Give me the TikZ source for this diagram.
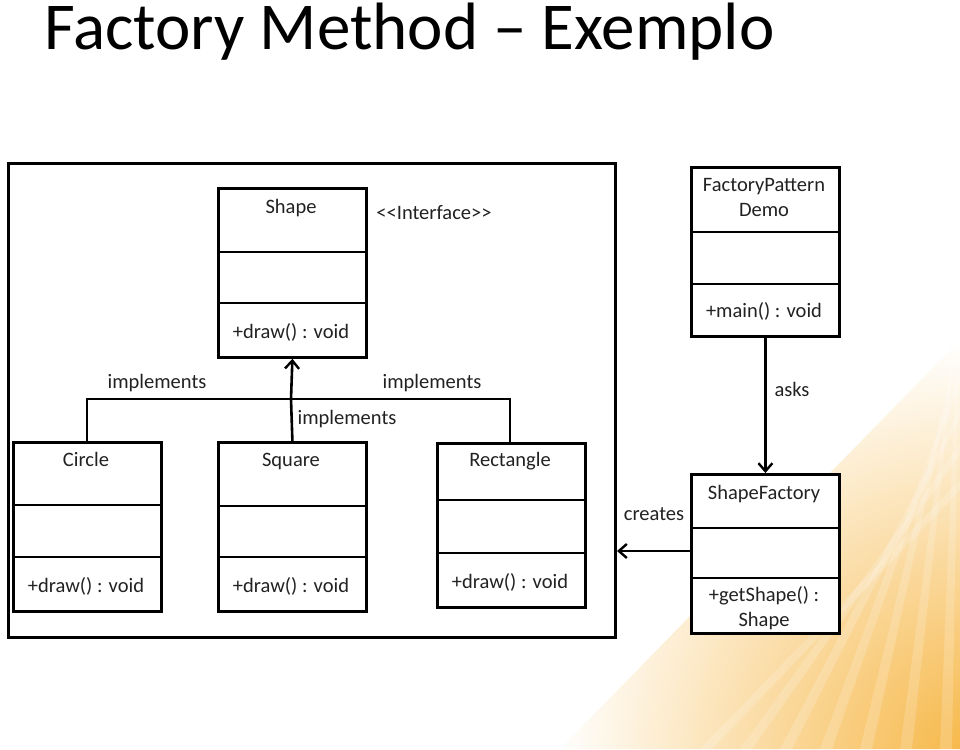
\documentclass[tikz,border=0pt]{standalone}
\usepackage{fontspec}
\setmainfont{Carlito}
\usetikzlibrary{arrows.meta}
\definecolor{txt}{HTML}{222222}
\definecolor{warm}{HTML}{F6B644}
\tikzset{
  cls/.style={draw=black, line width=2.8pt, inner sep=0pt, anchor=north west, fill=white},
  div/.style={line width=2.6pt},
  lbl/.style={font=\fontsize{20.5}{25}\selectfont, text=txt, anchor=base, inner sep=0pt},
  conn/.style={line width=2.6pt},
  arr/.style={conn, -{Straight Barb[length=8pt,width=14pt,line width=2.4pt]}},
}
\begin{document}
\begin{tikzpicture}[x=1pt,y=-1pt]
\useasboundingbox (0,0) rectangle (960,749);
\fill[white] (0,0) rectangle (960,749);
% warm background corner
\begin{scope}
  \clip (560,749) -- (960,340) -- (960,749) -- cycle;
  \shade[inner color=warm, outer color=white] (975,760) circle[radius=420];
  \foreach \d in {0,40,...,360} {
    \fill[white, opacity=0.18] (700+\d,749) -- (960,480-\d*0.9) -- (960,490-\d*0.9) -- (712+\d,749) -- cycle;
  }
\end{scope}

% title
\node[font=\fontsize{67}{72}\selectfont, anchor=base west, inner sep=0pt] (title) at (44,50) {Factory Method -- Exemplo};

% outer frame
\node[draw=black, line width=3pt, inner sep=0pt, anchor=north west, minimum width=607pt, minimum height=474pt] (frame) at (7,162) {};

% Shape interface
\node[cls, minimum width=148pt, minimum height=169pt] (shape) at (217,187) {};
\draw[div] (shape.west |- 0,252) -- (shape.east |- 0,252);
\draw[div] (shape.west |- 0,303) -- (shape.east |- 0,303);
\node[lbl] (shapeT) at (291,213) {Shape};
\node[lbl] (shapeM) at (291,338) {+draw() : void};
\node[lbl] (iface) at (434,219) {<{}<Interface>{}>};

% Circle
\node[cls, minimum width=148pt, minimum height=169pt] (circle) at (12,441) {};
\draw[div] (circle.west |- 0,505) -- (circle.east |- 0,505);
\draw[div] (circle.west |- 0,557) -- (circle.east |- 0,557);
\node[lbl] (circleT) at (86,466) {Circle};
\node[lbl] (circleM) at (86,592) {+draw() : void};

% Square
\node[cls, minimum width=148pt, minimum height=169pt] (square) at (217,441) {};
\draw[div] (square.west |- 0,506) -- (square.east |- 0,506);
\draw[div] (square.west |- 0,557) -- (square.east |- 0,557);
\node[lbl] (squareT) at (291,466) {Square};
\node[lbl] (squareM) at (291,592) {+draw() : void};

% Rectangle
\node[cls, minimum width=148pt, minimum height=164pt] (rect) at (436,442) {};
\draw[div] (rect.west |- 0,500) -- (rect.east |- 0,500);
\draw[div] (rect.west |- 0,553) -- (rect.east |- 0,553);
\node[lbl] (rectT) at (510,466) {Rectangle};
\node[lbl] (rectM) at (510,588) {+draw() : void};

% FactoryPatternDemo
\node[cls, minimum width=148pt, minimum height=169pt] (demo) at (690,166) {};
\draw[div] (demo.west |- 0,232) -- (demo.east |- 0,232);
\draw[div] (demo.west |- 0,284) -- (demo.east |- 0,284);
\node[lbl] (demoT1) at (764,191) {FactoryPattern};
\node[lbl] (demoT2) at (764,216) {Demo};
\node[lbl] (demoM) at (764,317) {+main() : void};

% ShapeFactory
\node[cls, minimum width=148pt, minimum height=159pt] (factory) at (690,473) {};
\draw[div] (factory.west |- 0,528) -- (factory.east |- 0,528);
\draw[div] (factory.west |- 0,578) -- (factory.east |- 0,578);
\node[lbl] (factoryT) at (764,499) {ShapeFactory};
\node[lbl] (factoryM1) at (764,601) {+getShape() :};
\node[lbl] (factoryM2) at (764,626) {Shape};

% implements connectors
\coordinate (bus) at (291,399);
\draw[conn] (circle.north -| 87,0) |- (bus);
\draw[conn] (rect.north -| 510,0) |- (bus);
\draw[conn] (square.north) -- (bus);
\draw[arr] (bus) -- (shape.south);
\node[lbl] (impl1) at (157,388) {implements};
\node[lbl] (impl2) at (432,388) {implements};
\node[lbl] (impl3) at (347,424) {implements};

% asks
\draw[arr] (demo.south) -- (factory.north);
\node[lbl] (asks) at (792,396) {asks};

% creates
\draw[arr] (factory.west |- 0,551) -- (frame.east |- 0,551);
\node[lbl] (creates) at (654,520) {creates};
\end{tikzpicture}
\end{document}
